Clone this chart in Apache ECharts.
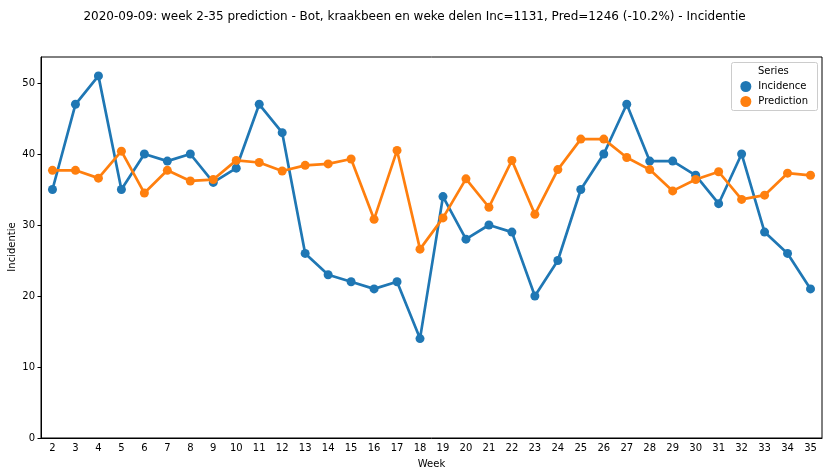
<!DOCTYPE html>
<html><head><meta charset="utf-8">
<script src="https://cdn.jsdelivr.net/npm/echarts@6/dist/echarts.min.js"></script>
<style>html,body{margin:0;padding:0;background:#fff}#c{width:829px;height:476px}</style>
</head><body><div id="c"></div>
<script>
const weeks = ['2','3','4','5','6','7','8','9','10','11','12','13','14','15','16','17','18','19','20','21','22','23','24','25','26','27','28','29','30','31','32','33','34','35'];
const incidence = [35,47,51,35,40,39,40,36,38,47,43,26,23,22,21,22,14,34,28,30,29,20,25,35,40,47,39,39,37,33,40,29,26,21];
const prediction = [37.7,37.7,36.6,40.4,34.5,37.7,36.2,36.4,39.1,38.8,37.6,38.4,38.6,39.3,30.8,40.5,26.6,31.0,36.5,32.5,39.1,31.5,37.8,42.1,42.1,39.5,37.8,34.8,36.4,37.5,33.6,34.2,37.3,37.0];
const yTicks = [0,10,20,30,40,50];
const titleText = '2020-09-09: week 2-35 prediction - Bot, kraakbeen en weke delen Inc=1131, Pred=1246 (-10.2%) - Incidentie';
const yName = 'Incidentie';

const font = 'DejaVu Sans';
const chart = echarts.init(document.getElementById('c'), null, {renderer:'canvas'});
chart.setOption({
  animation:false,
  backgroundColor:'#fff',
  textStyle:{fontFamily:font},
  title:{text:titleText,left:'center',top:6,textStyle:{fontFamily:font,fontSize:12,fontWeight:'normal',color:'#000'}},
  grid:{left:41,right:7,top:57,bottom:38,show:true,borderColor:'#000',borderWidth:1,backgroundColor:'transparent',
    containLabel:false,outerBoundsMode:'none'},
  legend:{
    orient:'vertical',right:16,top:76,itemGap:4,itemWidth:11,itemHeight:11,icon:'circle',
    textStyle:{fontFamily:font,fontSize:10,color:'#000',padding:[0,0,0,2]},
    data:['Incidence','Prediction']
  },
  graphic:[
    {type:'rect',shape:{x:731.5,y:62.5,width:86,height:48,r:2},style:{fill:'rgba(255,255,255,0.8)',stroke:'#ccc',lineWidth:1},z:0},
    {type:'text',left:758,top:66,style:{text:'Series',fontFamily:font,fontSize:10,fill:'#000'},z:1},
    {type:'text',x:12,y:247,rotation:Math.PI/2,style:{text:yName,fontFamily:font,fontSize:10,fill:'#000',align:'center',verticalAlign:'middle'},z:1}
  ],
  xAxis:{
    type:'category',data:weeks,boundaryGap:true,name:'Week',nameLocation:'middle',nameGap:21,
    nameTextStyle:{fontFamily:font,fontSize:10,color:'#000'},
    axisLine:{lineStyle:{color:'#000',width:1}},
    axisTick:{alignWithLabel:true,length:3.5,lineStyle:{color:'#000'}},
    axisLabel:{fontFamily:font,fontSize:10,color:'#000',margin:5,interval:0},
    splitLine:{show:false}
  },
  yAxis:{
    type:'value',min:0,max:53.66,interval:10,
    axisLine:{show:true,lineStyle:{color:'#000',width:1}},
    axisTick:{show:true,length:3.5,lineStyle:{color:'#000'}},
    axisLabel:{fontFamily:font,fontSize:10,color:'#000',margin:6,showMaxLabel:false,
      formatter:v=>yTicks.includes(v)?String(v):''},
    splitLine:{show:false}
  },
  series:[
    {name:'Incidence',type:'line',data:incidence,symbol:'circle',symbolSize:9,
     lineStyle:{width:2.7,color:'#1f77b4'},itemStyle:{color:'#1f77b4'}},
    {name:'Prediction',type:'line',data:prediction,symbol:'circle',symbolSize:9,
     lineStyle:{width:2.7,color:'#ff7f0e'},itemStyle:{color:'#ff7f0e'}}
  ]
});
</script></body></html>
